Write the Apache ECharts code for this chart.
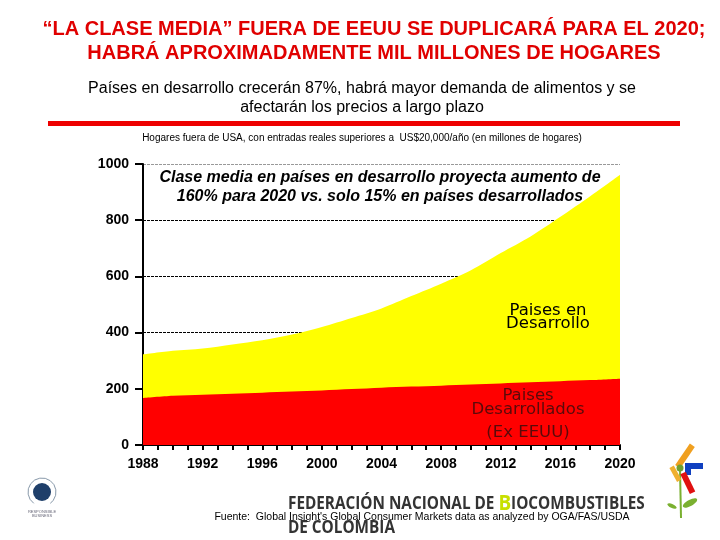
<!DOCTYPE html>
<html>
<head>
<meta charset="utf-8">
<script src="https://cdn.jsdelivr.net/npm/echarts@6/dist/echarts.min.js"></script>
<style>
html,body{margin:0;padding:0;background:#fff;}
#main{width:720px;height:540px;}
</style>
</head>
<body>
<div id="main"></div>
<script>
// Data (millones de hogares)
var years = [1988,1990,1992,1994,1996,1998,2000,2002,2004,2006,2008,2010,2012,2014,2016,2018,2020];
// Países desarrollados (ex EEUU)
var desarrollados = [167,175,179,182,186,190,194,199,204,208,211,215,219,223,227,231,236];
// Total (desarrollados + en desarrollo), top of the yellow area
var totalHogares = [322,335,343,358,373,393,420,452,486,530,574,622,683,742,812,885,962];
var yTicks = [0,200,400,600,800,1000];
var xTicks = [1988,1992,1996,2000,2004,2008,2012,2016,2020];

function pairs(vals){ return years.map(function(y,i){ return [y, vals[i]]; }); }

var chart = echarts.init(document.getElementById('main'), null, {renderer:'canvas'});
var F = 'Liberation Sans, Arial, sans-serif';
var D = 'DejaVu Sans, sans-serif';
var option = {
  backgroundColor:'#ffffff',
  animation:false,
  grid:{left:143,right:100,top:164,bottom:95,containLabel:false},
  xAxis:{
    type:'value', min:1988, max:2020, interval:4,
    axisLine:{show:true,lineStyle:{color:'#000',width:2}},
    axisTick:{show:true,length:5,lineStyle:{color:'#000',width:2}},
    minorTick:{show:true,splitNumber:4,length:5,lineStyle:{color:'#000',width:2}},
    splitLine:{show:false},
    axisLabel:{color:'#000',fontFamily:F,fontWeight:'bold',fontSize:14,margin:12,
      formatter:function(v){ return xTicks.indexOf(v)>=0 ? String(v) : ''; }}
  },
  yAxis:{
    type:'value', min:0, max:1000, interval:200,
    axisLine:{show:true,lineStyle:{color:'#000',width:2}},
    axisTick:{show:true,length:8,inside:false,lineStyle:{color:'#000',width:2}},
    splitLine:{show:true,lineStyle:{color:['#000','#000','#000','#000','#000','#999'],width:1,type:[3,1]}},
    axisLabel:{color:'#000',fontFamily:F,fontWeight:'bold',fontSize:14,margin:14,
      formatter:function(v){ return yTicks.indexOf(v)>=0 ? String(v) : ''; }}
  },
  series:[
    {name:'Paises en Desarrollo',type:'line',data:pairs(totalHogares),smooth:0.3,
      symbol:'none',lineStyle:{width:0},areaStyle:{color:'#ffff00',opacity:1}},
    {name:'Paises Desarrollados (Ex EEUU)',type:'line',data:pairs(desarrollados),smooth:0.3,
      symbol:'none',lineStyle:{width:0},areaStyle:{color:'#ff0000',opacity:1}}
  ],
  graphic:[
    {type:'text',x:374,y:17,style:{text:'“LA CLASE MEDIA” FUERA DE EEUU SE DUPLICARÁ PARA EL 2020;\nHABRÁ APROXIMADAMENTE MIL MILLONES DE HOGARES',
      fill:'#e00000',font:'bold 20px '+F,textAlign:'center',lineHeight:24}},
    {type:'text',x:362,y:79,style:{text:'Países en desarrollo crecerán 87%, habrá mayor demanda de alimentos y se\nafectarán los precios a largo plazo',
      fill:'#000',font:'16px '+F,textAlign:'center',lineHeight:19}},
    {type:'rect',shape:{x:48,y:121,width:632,height:5},style:{fill:'#ee0000'}},
    {type:'text',x:362,y:133,style:{text:'Hogares fuera de USA, con entradas reales superiores a  US$20,000/año (en millones de hogares)',
      fill:'#000',font:'10px '+F,textAlign:'center'}},
    {type:'text',x:380,y:168,z:10,style:{text:'Clase media en países en desarrollo proyecta aumento de\n160% para 2020 vs. solo 15% en países desarrollados',
      fill:'#000',font:'italic bold 16px '+F,textAlign:'center',lineHeight:19}},
    {type:'text',x:548,y:305,z:10,scaleX:1.1,style:{text:'Paises en\nDesarrollo',fill:'#000',font:'15px '+D,textAlign:'center',lineHeight:13}},
    {type:'text',x:528,y:389,z:10,scaleX:1.1,style:{text:'Paises\nDesarrollados',fill:'#5a0a0a',font:'15px '+D,textAlign:'center',lineHeight:14}},
    {type:'text',x:528,y:426,z:10,scaleX:1.1,style:{text:'(Ex EEUU)',fill:'#5a0a0a',font:'15px '+D,textAlign:'center'}},
    {type:'text',x:288,y:494,scaleX:0.9,style:{rich:{a:{fill:'#333',font:'bold 17px Open Sans, sans-serif'},b:{fill:'#c8e000',font:'bold 21px Open Sans, sans-serif'}},
      text:'{a|FEDERACIÓN NACIONAL DE }{b|B}{a|IOCOMBUSTIBLES}'}},
    {type:'text',x:288,y:520,scaleX:0.9,style:{text:'DE COLOMBIA',fill:'#333',font:'bold 17px Open Sans, sans-serif'}},
    {type:'text',x:422,y:512,z:10,style:{text:'Fuente:  Global Insight\'s Global Consumer Markets data as analyzed by OGA/FAS/USDA',
      fill:'#000',font:'10.5px '+F,textAlign:'center'}},
    // UN Global Compact logo (simplified)
    {type:'circle',shape:{cx:42,cy:492,r:9},style:{fill:'#1f3f6a'}},
    {type:'arc',shape:{cx:42,cy:492,r:14,startAngle:Math.PI*0.7,endAngle:Math.PI*2.3,clockwise:true},style:{stroke:'#8899aa',lineWidth:1,fill:null}},
    {type:'text',x:42,y:510,style:{text:'RESPONSIBLE\nBUSINESS',fill:'#667',font:'4px '+F,textAlign:'center'}},
    // Flower logo (simplified)
    {type:'line',shape:{x1:680,y1:470,x2:681,y2:518},style:{stroke:'#7ab030',lineWidth:2}},
    {type:'ellipse',shape:{cx:690,cy:503,rx:8,ry:3},rotation:0.5,originX:690,originY:503,style:{fill:'#7ab030'}},
    {type:'ellipse',shape:{cx:672,cy:506,rx:5,ry:2},rotation:-0.4,originX:672,originY:506,style:{fill:'#7ab030'}},
    {type:'rect',shape:{x:682,y:443,width:6,height:26},rotation:-0.6,originX:685,originY:456,style:{fill:'#f0a020'}},
    {type:'rect',shape:{x:673,y:466,width:5,height:16},rotation:0.5,originX:675,originY:474,style:{fill:'#f0b030'}},
    {type:'rect',shape:{x:685,y:463,width:18,height:6},style:{fill:'#1040c0'}},
    {type:'rect',shape:{x:685,y:463,width:6,height:12},style:{fill:'#1040c0'}},
    {type:'rect',shape:{x:680,y:473,width:6,height:22},rotation:0.45,originX:683,originY:473,style:{fill:'#e01010'}},
    {type:'circle',shape:{cx:680,cy:468,r:3.5},style:{fill:'#70a030'}}
  ]
};
chart.setOption(option);
</script>
</body>
</html>
